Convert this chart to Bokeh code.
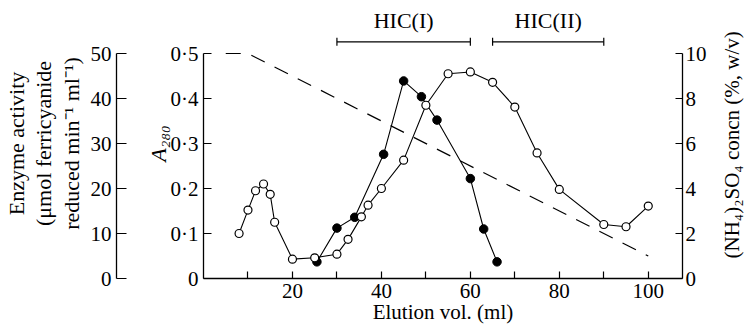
import math
from bokeh.plotting import figure
from bokeh.layouts import row
from bokeh.models import LinearAxis, Range1d, FixedTicker, CustomJSTickFormatter
from bokeh.core.properties import value
from bokeh.embed import file_html
from bokeh.resources import INLINE

FONT = "Liberation Serif"

# ---- data ----
vol_a280 = [8, 10, 11.7, 13.5, 15, 16, 20, 25, 30, 32.5, 35.5, 37, 40, 45, 50,
            55, 60, 65, 70, 75, 80, 90, 95, 100]
a280 = [0.100, 0.152, 0.195, 0.210, 0.187, 0.125, 0.043, 0.046, 0.054, 0.087,
        0.137, 0.163, 0.200, 0.263, 0.385, 0.455, 0.459, 0.436, 0.381, 0.279,
        0.198, 0.120, 0.115, 0.161]

vol_activity = [25.5, 30, 34, 40.5, 45, 49, 52.5, 60, 63, 66]
activity = [3.7, 11.2, 13.6, 27.6, 43.9, 40.4, 35.2, 22.2, 11.0, 3.7]

vol_gradient = [5, 10, 100]
ammonium_sulfate = [10, 10, 1]

fraction_names = ["HIC(I)", "HIC(II)"]
fraction_start = [30, 65]
fraction_end = [60, 90]
fraction_level = 0.526   # A280 units, above the axes
label_level = 0.573

x_ticks = [10, 20, 30, 40, 50, 60, 70, 80, 90, 100]
a280_ticks = [0, 0.1, 0.2, 0.3, 0.4, 0.5]
activity_ticks = [0, 10, 20, 30, 40, 50]
salt_ticks = [0, 2, 4, 6, 8, 10]

x_title = "Elution vol. (ml)"
a280_title = "A\u2082\u2088\u2080"
activity_title = "Enzyme activity\n(\u03bcmol ferricyanide\nreduced min\u207b\u00b9 ml\u207b\u00b9)"
salt_title = "(NH\u2084)\u2082SO\u2084 concn (%, w/v)"

H = 330
TOP = 8
BOTTOM = 52
p = figure(width=716, height=H,
           x_range=Range1d(0, 107.7), y_range=Range1d(0, 0.6),
           output_backend="svg", toolbar_location=None,
           min_border_left=194, min_border_right=34,
           min_border_top=TOP, min_border_bottom=BOTTOM)
p.extra_y_ranges = {"act": Range1d(0, 60), "salt": Range1d(0, 12)}
p.outline_line_color = None
p.grid.visible = False
p.background_fill_color = "white"
p.border_fill_color = "white"


def style(ax, tick_len):
    ax.axis_line_color = "black"
    ax.axis_line_width = 1.3
    ax.major_tick_line_color = "black"
    ax.major_tick_line_width = 1.2
    ax.major_tick_in = tick_len
    ax.major_tick_out = 0
    ax.minor_tick_line_color = None
    ax.major_label_text_font = FONT
    ax.major_label_text_font_size = "21px"
    ax.major_label_text_color = "black"
    ax.axis_label_text_font = FONT
    ax.axis_label_text_font_size = "22px"
    ax.axis_label_text_font_style = "normal"
    ax.axis_label_text_color = "black"


# x axis
xa = p.xaxis[0]
style(xa, 7)
xa.ticker = FixedTicker(ticks=x_ticks)
xa.formatter = CustomJSTickFormatter(code="return (tick % 20 == 0) ? tick.toFixed(0) : '';")
xa.major_label_standoff = 5
xa.axis_label = x_title
xa.axis_label_text_font_size = "21px"
xa.axis_label_standoff = -1

# A280 axis (primary left); a blank first line leaves room before the outer axis
ya = p.yaxis[0]
style(ya, 8)
ya.bounds = (0, 0.5)
ya.ticker = FixedTicker(ticks=a280_ticks)
ya.formatter = CustomJSTickFormatter(
    code="return tick == 0 ? '0' : tick.toFixed(1).replace('.', '\u00b7');")
ya.axis_label = "\u00a0\n" + a280_title
ya.axis_label_text_font_style = "italic"
ya.axis_label_text_line_height = 1.05
ya.major_label_standoff = 5
ya.axis_label_standoff = -3

# enzyme activity axis (outer left)
aa = LinearAxis(y_range_name="act")
style(aa, 10)
aa.bounds = (0, 50)
aa.ticker = FixedTicker(ticks=activity_ticks)
aa.axis_label = activity_title
aa.axis_label_text_line_height = 1.1
aa.major_label_standoff = 5
aa.axis_label_standoff = 4
p.add_layout(aa, "left")

# ammonium sulphate axis (right)
sa = LinearAxis(y_range_name="salt")
style(sa, 7)
sa.bounds = (0, 10)
sa.ticker = FixedTicker(ticks=salt_ticks)
sa.major_label_standoff = 3
p.add_layout(sa, "right")

# gradient
p.line(vol_gradient, ammonium_sulfate, y_range_name="salt",
       line_color="black", line_width=1.2, line_dash="15 11")

# enzyme activity
p.line(vol_activity, activity, y_range_name="act", line_color="black", line_width=1.1)
p.scatter(vol_activity, activity, y_range_name="act", size=8.5,
          fill_color="black", line_color="black", line_width=1)

# A280
p.line(vol_a280, a280, line_color="black", line_width=1.1)
p.scatter(vol_a280, a280, size=8, fill_color="white", line_color="black", line_width=1.2)

# fraction brackets
p.segment(x0=fraction_start, x1=fraction_end, y0=fraction_level, y1=fraction_level,
          line_color="black", line_width=1.2)
cap = 0.009
p.segment(x0=fraction_start + fraction_end, x1=fraction_start + fraction_end,
          y0=[fraction_level - cap] * 4, y1=[fraction_level + cap] * 4,
          line_color="black", line_width=1.2)
mid = [(a + b) / 2 for a, b in zip(fraction_start, fraction_end)]
p.text(x=mid, y=[label_level] * 2, text=fraction_names,
       text_font=value(FONT), text_font_size="22px", text_color="black",
       text_align="center", text_baseline="middle")

# narrow strip carrying the right-hand axis title (reads bottom to top);
# its y range continues the salt scale over the full strip height
px_per_unit = (H - TOP - BOTTOM) / 12.0
p2 = figure(width=28, height=H,
            x_range=Range1d(0, 1),
            y_range=Range1d(-BOTTOM / px_per_unit, 12 + TOP / px_per_unit),
            output_backend="svg", toolbar_location=None,
            min_border_left=0, min_border_right=0, min_border_top=0, min_border_bottom=0)
p2.axis.visible = False
p2.grid.visible = False
p2.outline_line_color = None
p2.background_fill_color = "white"
p2.border_fill_color = "white"
p2.text(x=[0.56], y=[4.95], text=[salt_title], angle=math.pi / 2,
        text_font=value(FONT), text_font_size="21px", text_color="black",
        text_align="center", text_baseline="middle")

layout = row(p, p2, spacing=0)
open("out.html", "w").write(file_html(layout, INLINE))
